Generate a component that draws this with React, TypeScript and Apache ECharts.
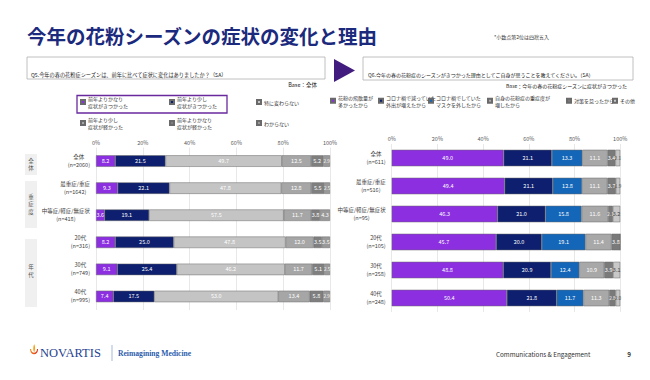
import React, { useEffect, useRef } from "react";
import * as echarts from "echarts";

const FONT = "'Noto Sans CJK JP', 'Noto Sans', sans-serif";

// ---- Left chart (Q5) ----
const leftCategories = [
  "全体\n(n=2060)",
  "最重症/重症\n(n=1642)",
  "中等症/軽症/無症状\n(n=418)",
  "20代\n(n=316)",
  "30代\n(n=749)",
  "40代\n(n=995)",
];
const leftNames = [
  "前年よりかなり症状がきつかった",
  "前年より少し症状がきつかった",
  "特に変わらない",
  "前年より少し症状が軽かった",
  "前年よりかなり症状が軽かった",
  "わからない",
];
const leftLegendText = [
  "前年よりかなり\n症状がきつかった",
  "前年より少し\n症状がきつかった",
  "特に変わらない",
  "前年より少し\n症状が軽かった",
  "前年よりかなり\n症状が軽かった",
  "わからない",
];
const L1 = [8.2, 9.3, 3.6, 8.2, 9.1, 7.4];
const L2 = [21.5, 22.1, 19.1, 25.0, 25.4, 17.5];
const L3 = [49.7, 47.8, 57.5, 47.8, 46.2, 53.0];
const L4 = [12.5, 12.8, 11.7, 12.0, 11.7, 13.4];
const L5 = [5.2, 5.5, 3.8, 3.5, 5.1, 5.8];
const L6 = [2.9, 2.5, 4.3, 3.5, 2.5, 2.9];
const leftValues = [L1, L2, L3, L4, L5, L6];
const leftColors = ["#8b2fe0", "#0d1f6e", "#c4c4c4", "#a6a6a6", "#7f7f7f", "#999999"];

// ---- Right chart (Q6) ----
const rightCategories = [
  "全体\n(n=611)",
  "最重症/重症\n(n=516)",
  "中等症/軽症/無症状\n(n=95)",
  "20代\n(n=105)",
  "30代\n(n=258)",
  "40代\n(n=248)",
];
const rightNames = [
  "花粉の飛散量が多かったから",
  "コロナ禍で減っていた外出が増えたから",
  "コロナ禍でしていたマスクを外したから",
  "自身の花粉症の重症度が増したから",
  "対策を怠ったから",
  "その他",
];
const rightLegendText = [
  "花粉の飛散量が\n多かったから",
  "コロナ禍で減っていた\n外出が増えたから",
  "コロナ禍でしていた\nマスクを外したから",
  "自身の花粉症の重症度が\n増したから",
  "対策を怠ったから",
  "その他",
];
const R1 = [49.0, 49.4, 46.3, 45.7, 48.8, 50.4];
const R2 = [21.1, 21.1, 21.0, 20.0, 20.9, 21.8];
const R3 = [13.3, 12.8, 15.8, 19.1, 12.4, 11.7];
const R4 = [11.1, 11.1, 11.6, 11.4, 10.9, 11.3];
const R5 = [3.4, 3.7, 2.1, 3.8, 3.9, 2.8];
const R6 = [2.1, 1.9, 3.2, 0, 3.1, 2.0];
const rightValues = [R1, R2, R3, R4, R5, R6];
const rightColors = ["#8b2fe0", "#0d1f6e", "#1466b8", "#a8a8a8", "#7a7a7a", "#c8c8c8"];

// first-line centre y of each legend entry
const leftLegendPos = [
  [80, 102], [169, 102], [256, 102],
  [80, 123], [169, 123], [256, 123],
];
const rightLegendPos = [
  [330, 100.7], [378, 100.7], [428, 100.7], [487, 100.7], [566, 100.7], [612, 100.7],
];

const groupBoxes = [
  { text: "全\n体", y: 154, h: 21, cy: 164.5 },
  { text: "重\n症\n度", y: 181, h: 47, cy: 204 },
  { text: "年\n代", y: 239, h: 68, cy: 271 },
];

function makeLegend(name: string, label: string, x: number, cy: number, lh: number) {
  const twoLine = label.indexOf("\n") >= 0;
  const padTop = twoLine ? lh : 0;
  const blockH = twoLine ? lh * 3 : lh;
  return {
    data: [name],
    left: x,
    top: cy - blockH / 2,
    padding: 0,
    itemWidth: 4,
    itemHeight: 4,
    itemGap: 2,
    icon: "rect",
    selectedMode: false,
    formatter: () => label,
    textStyle: {
      fontSize: 5,
      lineHeight: lh,
      color: "#333",
      fontFamily: FONT,
      padding: [padTop, 0, 0, -2],
    },
  };
}

export default function App() {
  const ref = useRef<HTMLDivElement>(null);
  useEffect(() => {
    if (!ref.current) return;
    echarts.graphic.registerShape(
      "nvbowl",
      echarts.graphic.extendPath(
        "M0,5 C0,12 9,12 9,5 L7.8,5 C7.8,10 1.2,10 1.2,5 Z",
        {}
      )
    );
    echarts.graphic.registerShape(
      "nvflame",
      echarts.graphic.extendPath(
        "M4.6,0 C6.2,2.5 5.8,5 4.8,8.5 C3.4,6.5 3,4 4.6,0 Z",
        {}
      )
    );
    const chart = echarts.init(ref.current, null, { renderer: "svg" });

    const legends: any[] = [];
    leftNames.forEach((n, i) => {
      legends.push(makeLegend(n, leftLegendText[i], leftLegendPos[i][0], leftLegendPos[i][1], 7.8));
    });
    rightNames.forEach((n, i) => {
      legends.push(makeLegend(n, rightLegendText[i], rightLegendPos[i][0], rightLegendPos[i][1], 7));
    });

    const mkLabel = (color: string) => ({
      show: true,
      position: "inside",
      fontSize: 5.5,
      color,
      fontFamily: FONT,
      formatter: (p: any) => (p.value ? Number(p.value).toFixed(1) : ""),
    });
    // narrow segments get a slightly smaller label
    const mkData = (vals: number[]) =>
      vals.map((v) => (v > 0 && v < 3 ? { value: v, label: { fontSize: 4.6 } } : v));

    const series: any[] = [];
    leftNames.forEach((n, i) => {
      series.push({
        name: n,
        type: "bar",
        stack: "L",
        xAxisIndex: 0,
        yAxisIndex: 0,
        barWidth: 11.5,
        data: mkData(leftValues[i]),
        itemStyle: { color: leftColors[i], borderColor: "#6a6a6a", borderWidth: 0.5 },
        label: mkLabel("#ffffff"),
      });
    });
    rightNames.forEach((n, i) => {
      series.push({
        name: n,
        type: "bar",
        stack: "R",
        xAxisIndex: 1,
        yAxisIndex: 1,
        barWidth: 16.5,
        data: mkData(rightValues[i]),
        itemStyle: { color: rightColors[i], borderColor: "#6a6a6a", borderWidth: 0.5 },
        label: mkLabel(i === 5 ? "#444444" : "#ffffff"),
      });
    });

    const xAxisBase = {
      type: "value",
      min: 0,
      max: 100,
      interval: 20,
      position: "top",
      axisLine: { show: false },
      axisTick: { show: false },
      axisLabel: { formatter: "{value}%", fontSize: 5.5, color: "#595959", margin: 2, fontFamily: FONT },
      splitLine: { lineStyle: { color: "#d9d9d9", width: 0.6 } },
    };
    const catLabel = {
      fontSize: 5.5,
      lineHeight: 8,
      color: "#404040",
      fontFamily: FONT,
      align: "right",
      margin: 6,
      formatter: (v: string) =>
        v
          .split("\n")
          .map((s) => `{c|${s}}`)
          .join("\n"),
      rich: {
        c: { align: "center", fontSize: 5.5, lineHeight: 8, color: "#404040", fontFamily: FONT },
      },
    };
    const yAxisBase = {
      type: "category",
      inverse: true,
      axisLine: { show: false },
      axisTick: { show: false },
    };

    const graphic: any[] = [
      {
        type: "text",
        x: 27,
        y: 35,
        style: {
          text: "今年の花粉シーズンの症状の変化と理由",
          fontSize: 19.5,
          fontWeight: "bold",
          fontFamily: FONT,
          fill: "#1c2a7e",
          verticalAlign: "middle",
        },
      },
      {
        type: "text",
        x: 494,
        y: 36,
        style: { text: "*小数点第2位は四捨五入", fontSize: 5, fontFamily: FONT, fill: "#333", verticalAlign: "middle" },
      },
      {
        type: "rect",
        shape: { x: 27, y: 57, width: 298, height: 22 },
        style: { fill: "none", stroke: "#b0b0b0", lineWidth: 0.8 },
      },
      {
        type: "text",
        x: 31,
        y: 74,
        style: {
          text: "Q5.今年の春の花粉症シーズンは、前年に比べて症状に変化はありましたか？（SA）",
          fontSize: 5.2,
          fontFamily: FONT,
          fill: "#222",
          verticalAlign: "middle",
        },
      },
      {
        type: "text",
        x: 317,
        y: 85,
        style: { text: "Base：全体", fontSize: 5.5, fontFamily: FONT, fill: "#222", align: "right", verticalAlign: "middle" },
      },
      {
        type: "rect",
        shape: { x: 363, y: 57, width: 270, height: 23 },
        style: { fill: "none", stroke: "#b0b0b0", lineWidth: 0.8 },
      },
      {
        type: "text",
        x: 368,
        y: 74,
        style: {
          text: "Q6.今年の春の花粉症のシーズンがきつかった理由としてご自身が思うことを教えてください。（SA）",
          fontSize: 5,
          fontFamily: FONT,
          fill: "#222",
          verticalAlign: "middle",
        },
      },
      {
        type: "text",
        x: 627,
        y: 85,
        style: {
          text: "Base：今年の春の花粉症シーズンに症状がきつかった",
          fontSize: 5,
          fontFamily: FONT,
          fill: "#222",
          align: "right",
          verticalAlign: "middle",
        },
      },
      {
        type: "polygon",
        shape: { points: [[334, 59], [334, 82], [355, 70.5]] },
        style: { fill: "#421c7f" },
      },
      {
        type: "rect",
        shape: { x: 77, y: 95.5, width: 150, height: 17.5 },
        style: { fill: "none", stroke: "#6a2a9e", lineWidth: 1.3 },
      },
      // footer
      {
        type: "nvbowl",
        x: 30,
        y: 344,
        scaleX: 0.9,
        scaleY: 1,
        style: {
          fill: new echarts.graphic.LinearGradient(0, 0, 1, 0, [
            { offset: 0, color: "#f08a1c" },
            { offset: 1, color: "#e2231a" },
          ]),
        },
      },
      {
        type: "nvflame",
        x: 30,
        y: 344,
        scaleX: 0.9,
        scaleY: 1,
        style: { fill: "#f3a21b" },
      },
      {
        type: "text",
        x: 40,
        y: 353,
        style: {
          text: "NOVARTIS",
          fontSize: 12.5,
          fontFamily: "'Liberation Serif', 'DejaVu Serif', serif",
          fill: "#1f3f8f",
          verticalAlign: "middle",
        },
      },
      {
        type: "line",
        shape: { x1: 112, y1: 345, x2: 112, y2: 361 },
        style: { stroke: "#7f9cc9", lineWidth: 0.7 },
      },
      {
        type: "text",
        x: 118,
        y: 353,
        style: {
          text: "Reimagining Medicine",
          fontSize: 7.6,
          fontWeight: "bold",
          fontFamily: "'Liberation Serif', 'DejaVu Serif', serif",
          fill: "#2a5cab",
          verticalAlign: "middle",
        },
      },
      {
        type: "text",
        x: 496,
        y: 354,
        style: { text: "Communications & Engagement", fontSize: 6.3, fontFamily: FONT, fill: "#333", verticalAlign: "middle" },
      },
      {
        type: "text",
        x: 629,
        y: 354,
        style: { text: "9", fontSize: 6.3, fontWeight: "bold", fontFamily: FONT, fill: "#333", verticalAlign: "middle", align: "center" },
      },
    ];
    groupBoxes.forEach((g) => {
      graphic.push({
        type: "rect",
        shape: { x: 25, y: g.y, width: 12, height: g.h },
        style: { fill: "#f0f0f0" },
      });
      graphic.push({
        type: "text",
        x: 31,
        y: g.cy,
        style: {
          text: g.text,
          fontSize: 5.5,
          lineHeight: 7.5,
          fontFamily: FONT,
          fill: "#555",
          align: "center",
          verticalAlign: "middle",
        },
      });
    });

    chart.setOption({
      animation: false,
      textStyle: { fontFamily: FONT },
      legend: legends,
      grid: [
        { left: 96, top: 147.5, width: 234, height: 162.5 },
        { left: 391.7, top: 144, width: 228.5, height: 168 },
      ],
      xAxis: [
        { ...xAxisBase, gridIndex: 0 },
        { ...xAxisBase, gridIndex: 1 },
      ],
      yAxis: [
        { ...yAxisBase, gridIndex: 0, data: leftCategories, axisLabel: catLabel },
        { ...yAxisBase, gridIndex: 1, data: rightCategories, axisLabel: catLabel },
      ],
      series,
      graphic,
    });
    return () => chart.dispose();
  }, []);
  return (
    <div
      ref={ref}
      style={{ position: "fixed", left: 0, top: 0, width: 650, height: 380, background: "#fff" }}
    />
  );
}
